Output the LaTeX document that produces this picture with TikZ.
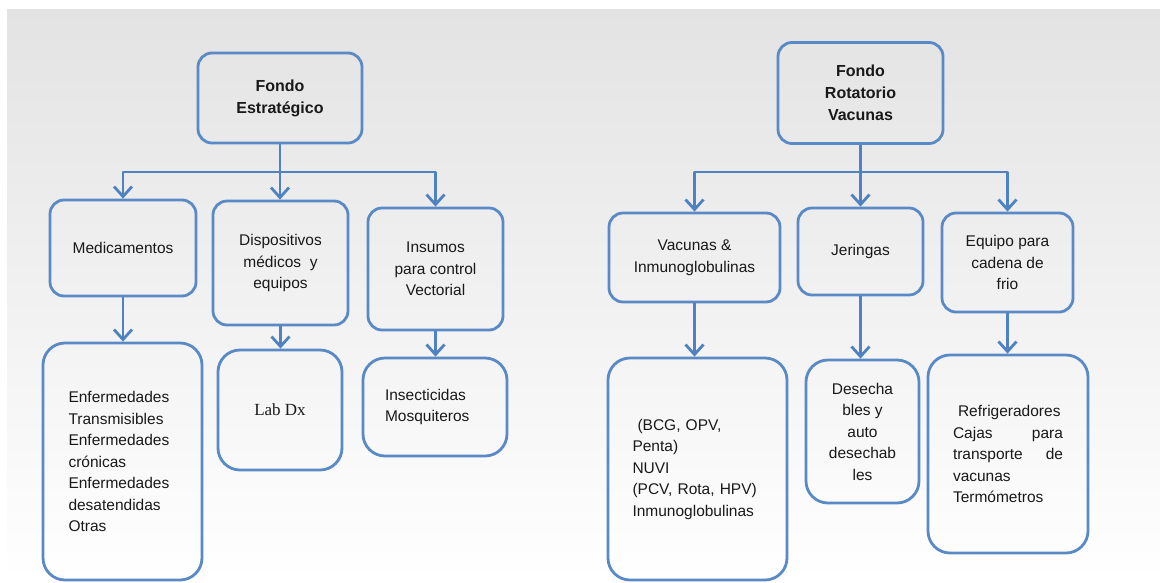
\documentclass[tikz,border=0pt]{standalone}
\usepackage{fontspec}
\setmainfont{Liberation Sans}
\newfontfamily\timesfont{Liberation Serif}
\usetikzlibrary{arrows.meta}
\definecolor{boxblue}{HTML}{5A8AC6}
\definecolor{linkblue}{HTML}{4F82C0}
\tikzset{
  card/.style={draw=boxblue, line width=2.8pt, rounded corners=14pt,
    align=center, inner sep=2pt, text=black!90,
    font=\fontsize{15.5}{21.5}\selectfont},
  bigcard/.style={card, rounded corners=22pt},
  head/.style={card, font=\bfseries\fontsize{16}{22}\selectfont},
  link/.style={draw=linkblue, line width=2.8pt, line join=round,
    -{Straight Barb[length=10pt,width=18pt]}},
}
\begin{document}
\begin{tikzpicture}[x=1pt,y=-1pt]
\useasboundingbox (0,0) rectangle (1160,582);
% backdrop
\shade[top color=black!11, middle color=black!4, bottom color=white]
  (7,9) rectangle (1160,582);

% ---- Fondo Estrategico branch
\node[head, minimum width=164pt, minimum height=90pt] (fe) at (280,98)
  {Fondo\\Estratégico};
\node[card, minimum width=146pt, minimum height=96pt] (med) at (123,248)
  {Medicamentos};
\node[card, minimum width=135pt, minimum height=124pt] (dis) at (280.5,263)
  {Dispositivos\\médicos\ \ y\\equipos};
\node[card, minimum width=135pt, minimum height=122pt] (ins) at (435.5,269)
  {Insumos\\para control\\Vectorial};
\node[bigcard, minimum width=159pt, minimum height=237pt, text width=108pt,
  align=left] (enf) at (122.5,461.5)
  {Enfermedades\\Transmisibles\\Enfermedades\\crónicas\\Enfermedades\\desatendidas\\Otras};
\node[bigcard, minimum width=124pt, minimum height=120pt,
  font=\timesfont\fontsize{17}{21}\selectfont] (lab) at (280,410) {Lab Dx};
\node[bigcard, minimum width=144pt, minimum height=98pt, text width=100pt,
  align=left] (inc) at (435,407) {Insecticidas\\Mosquiteros};

% ---- Fondo Rotatorio branch
\node[head, minimum width=165pt, minimum height=101pt] (fr) at (860.5,93)
  {Fondo\\Rotatorio\\Vacunas};
\node[card, minimum width=171pt, minimum height=89pt] (vac) at (694.5,257.5)
  {Vacunas \&\\Inmunoglobulinas};
\node[card, minimum width=125pt, minimum height=87pt] (jer) at (860.5,251.5)
  {Jeringas};
\node[card, minimum width=131pt, minimum height=99pt] (equ) at (1007.5,262.5)
  {Equipo para\\cadena de\\frio};
\node[bigcard, minimum width=179pt, minimum height=222pt, text width=130pt,
  align=left] (vacl) at (697.5,469)
  {\hspace*{5pt}(BCG, OPV,\\Penta)\\NUVI\\(PCV, Rota, HPV)\\Inmunoglobulinas};
\node[bigcard, minimum width=113pt, minimum height=143pt] (des) at (862.5,431.5)
  {Desecha\\bles y\\auto\\desechab\\les};
\node[bigcard, minimum width=160pt, minimum height=198pt, text width=110pt,
  align=left] (ref) at (1008,454)
  {\hspace*{5pt}Refrigeradores\\\makebox[110pt][s]{Cajas\hfill para}\\
   \makebox[110pt][s]{transporte\hfill de}\\vacunas\\Termómetros};

% ---- junction level of both trees
\coordinate (jl) at (0,172);

% ---- connectors, left tree
\draw[link] (fe.south) |- (jl -| med.north) -- (med.north);
\draw[link] (fe.south) -- (fe.south |- dis.north);
\draw[link] (fe.south) |- (jl -| ins.north) -- (ins.north);
\draw[link] (med.south) -- (med.south |- enf.north);
\draw[link] (dis.south) -- (dis.south |- lab.north);
\draw[link] (ins.south) -- (ins.south |- inc.north);

% ---- connectors, right tree
\draw[link] (fr.south) |- (jl -| vac.north) -- (vac.north);
\draw[link] (fr.south) -- (fr.south |- jer.north);
\draw[link] (fr.south) |- (jl -| equ.north) -- (equ.north);
\draw[link] (vac.south) -- (vac.south |- vacl.north);
\draw[link] (jer.south) -- (jer.south |- des.north);
\draw[link] (equ.south) -- (equ.south |- ref.north);
\end{tikzpicture}
\end{document}
